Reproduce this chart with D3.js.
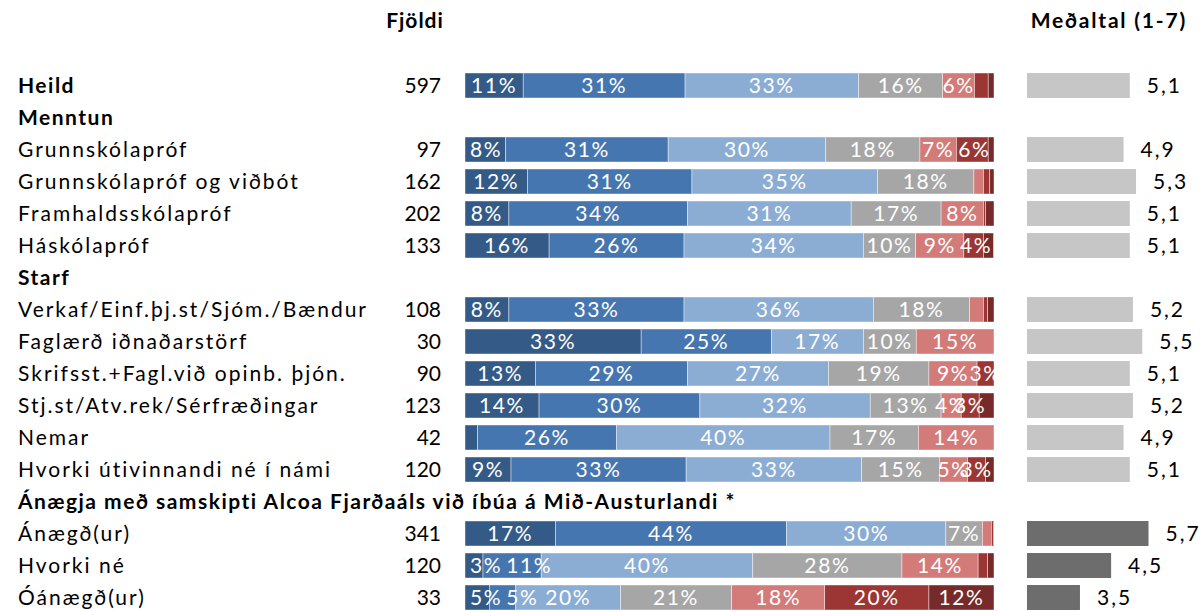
<!DOCTYPE html>
<html>
<head>
<meta charset="utf-8">
<script src="https://cdn.jsdelivr.net/npm/d3@7"></script>
<style>
  html, body { margin: 0; padding: 0; background: #fff; }
  svg { display: block; font-family: Lato, "Open Sans", sans-serif; }
</style>
</head>
<body>
<svg id="chart" width="1200" height="611"></svg>
<script>
// ---------- DATA ----------
const rowLabels = [
  "Heild", "Menntun", "Grunnskólapróf", "Grunnskólapróf og viðbót", "Framhaldsskólapróf",
  "Háskólapróf", "Starf", "Verkaf/Einf.þj.st/Sjóm./Bændur", "Faglærð iðnaðarstörf",
  "Skrifsst.+Fagl.við opinb. þjón.", "Stj.st/Atv.rek/Sérfræðingar", "Nemar",
  "Hvorki útivinnandi né í námi",
  "Ánægja með samskipti Alcoa Fjarðaáls við íbúa á Mið-Austurlandi *",
  "Ánægð(ur)", "Hvorki né", "Óánægð(ur)"
];
const rowBold = [true, true, false, false, false, false, true, false, false, false, false, false, false, true, false, false, false];
const counts = [597, null, 97, 162, 202, 133, null, 108, 30, 90, 123, 42, 120, null, 341, 120, 33];

// response categories (7 = most positive ... 1 = most negative), % per row
const categories = ["7", "6", "5", "4", "3", "2", "1"];
const v7 = [11.0, null, 7.7, 11.8, 8.3, 15.9, null, 8.3, 33.3, 13.3, 14.0, 2.4, 8.7, null, 17.1, 3.4, 4.6];
const v6 = [30.6, null, 30.7, 31.1, 33.8, 25.5, null, 33.1, 24.6, 28.8, 30.4, 26.2, 33.1, null, 43.7, 11.0, 5.0];
const v5 = [32.8, null, 29.8, 35.1, 30.9, 33.9, null, 35.8, 17.4, 26.6, 32.2, 40.4, 33.2, null, 30.1, 40.0, 19.8];
const v4 = [15.9, null, 17.8, 18.2, 17.0, 9.9, null, 18.2, 10.0, 19.0, 13.4, 16.7, 14.7, null, 6.9, 28.2, 21.0];
const v3 = [6.0, null, 6.9, 1.8, 8.0, 9.1, null, 2.6, 14.7, 9.1, 3.8, 14.3, 5.3, null, 1.7, 14.4, 17.6];
const v2 = [2.6, null, 6.0, 1.2, 0.4, 3.7, null, 0.8, 0, 3.2, 3.4, 0, 3.4, null, 0.4, 1.8, 19.7];
const v1 = [1.1, null, 1.1, 0.8, 1.6, 1.9, null, 1.2, 0, 0, 2.8, 0, 1.6, null, 0.1, 1.2, 12.3];

const means = [5.1, null, 4.9, 5.3, 5.1, 5.1, null, 5.2, 5.5, 5.1, 5.2, 4.9, 5.1, null, 5.7, 4.5, 3.5];
const meanDark = [false, false, false, false, false, false, false, false, false, false, false, false, false, false, true, true, true];

const colors = ["#345a88", "#4676b0", "#8badd4", "#a6a6a6", "#d37b78", "#9c3634", "#772a2a"];

// ---------- BUILD ----------
const seriesArrays = [v7, v6, v5, v4, v3, v2, v1];
const table = rowLabels.map((lab, i) => {
  const o = { idx: i, label: lab };
  categories.forEach((c, k) => { o[c] = seriesArrays[k][i]; });
  return o;
});
const dataRows = table.filter(d => d["7"] != null);

const svg = d3.select("#chart");
const fontSize = 21;

const y = d3.scalePoint().domain(d3.range(rowLabels.length)).range([85.5, 597.5]);
const x = d3.scaleLinear().domain([0, 100]).range([465, 994]);
const xm = d3.scaleLinear().domain([1.8, 7]).range([1027, 1027 + 162]);
const barH = 25;

// headers
svg.append("text").attr("x", 415).attr("y", 28).attr("text-anchor", "middle")
  .attr("font-size", fontSize).attr("font-weight", "bold").attr("letter-spacing", 1)
  .text("Fjöldi");
svg.append("text").attr("x", 1187).attr("y", 28).attr("text-anchor", "end")
  .attr("font-size", fontSize).attr("font-weight", "bold").attr("letter-spacing", 1.8)
  .text("Meðaltal (1-7)");

// row labels
svg.append("g").selectAll("text").data(rowLabels).join("text")
  .attr("x", 18).attr("y", (d, i) => y(i)).attr("dy", "0.36em")
  .attr("font-size", fontSize)
  .attr("letter-spacing", (d, i) => rowBold[i] ? 1.5 : 2)
  .attr("font-weight", (d, i) => rowBold[i] ? "bold" : "normal")
  .attr("fill", "#000")
  .text(d => d);

// counts
svg.append("g").selectAll("text").data(counts.map((c, i) => ({ c, i })).filter(d => d.c != null)).join("text")
  .attr("x", 441).attr("y", d => y(d.i)).attr("dy", "0.36em")
  .attr("text-anchor", "end").attr("font-size", fontSize).attr("fill", "#000")
  .text(d => d.c);

// stacked bars
const stack = d3.stack().keys(categories).value((d, k) => d[k] || 0);
const series = stack(dataRows);
const gBars = svg.append("g");
series.forEach((s, k) => {
  const g = gBars.append("g").attr("fill", colors[k]);
  g.selectAll("rect").data(s).join("rect")
    .attr("x", d => x(d[0]))
    .attr("y", d => y(d.data.idx) - barH / 2)
    .attr("width", d => Math.max(0, x(d[1]) - x(d[0])))
    .attr("height", barH)
    .attr("stroke", "#ffffff").attr("stroke-width", 0.6).attr("stroke-opacity", 0.7);
});

// percent labels (placed per row, nudged right so they do not collide when room allows)
const gLab = gBars.append("g");
dataRows.forEach((row, r) => {
  let prevRight = x(0) + 5;
  series.forEach((s, k) => {
    const d = s[r];
    const v = d[1] - d[0];
    if (v < 3) return;
    const t = gLab.append("text")
      .attr("y", y(row.idx)).attr("dy", "0.36em")
      .attr("text-anchor", "middle").attr("font-size", fontSize).attr("letter-spacing", 1.6)
      .attr("fill", "#fff")
      .text(Math.round(v) + "%");
    const w = t.node().getComputedTextLength();
    let cx = (x(d[0]) + x(d[1])) / 2;
    const minCx = prevRight + w / 2;
    if (cx < minCx && minCx + w / 2 <= x(100) + 2) cx = minCx;
    t.attr("x", cx);
    prevRight = cx + w / 2 + 4;
  });
});

// mean bars
const meanData = means.map((m, i) => ({ m, i })).filter(d => d.m != null);
const gMean = svg.append("g");
gMean.selectAll("rect").data(meanData).join("rect")
  .attr("x", xm(1.8))
  .attr("y", d => y(d.i) - barH / 2)
  .attr("width", d => xm(d.m) - xm(1.8))
  .attr("height", barH)
  .attr("fill", d => meanDark[d.i] ? "#6d6d6d" : "#c6c6c6");
gMean.selectAll("text").data(meanData).join("text")
  .attr("x", d => xm(d.m) + 17)
  .attr("y", d => y(d.i)).attr("dy", "0.36em")
  .attr("font-size", fontSize).attr("letter-spacing", 2).attr("fill", "#000")
  .text(d => d3.format(".1f")(d.m).replace(".", ","));
</script>
</body>
</html>
